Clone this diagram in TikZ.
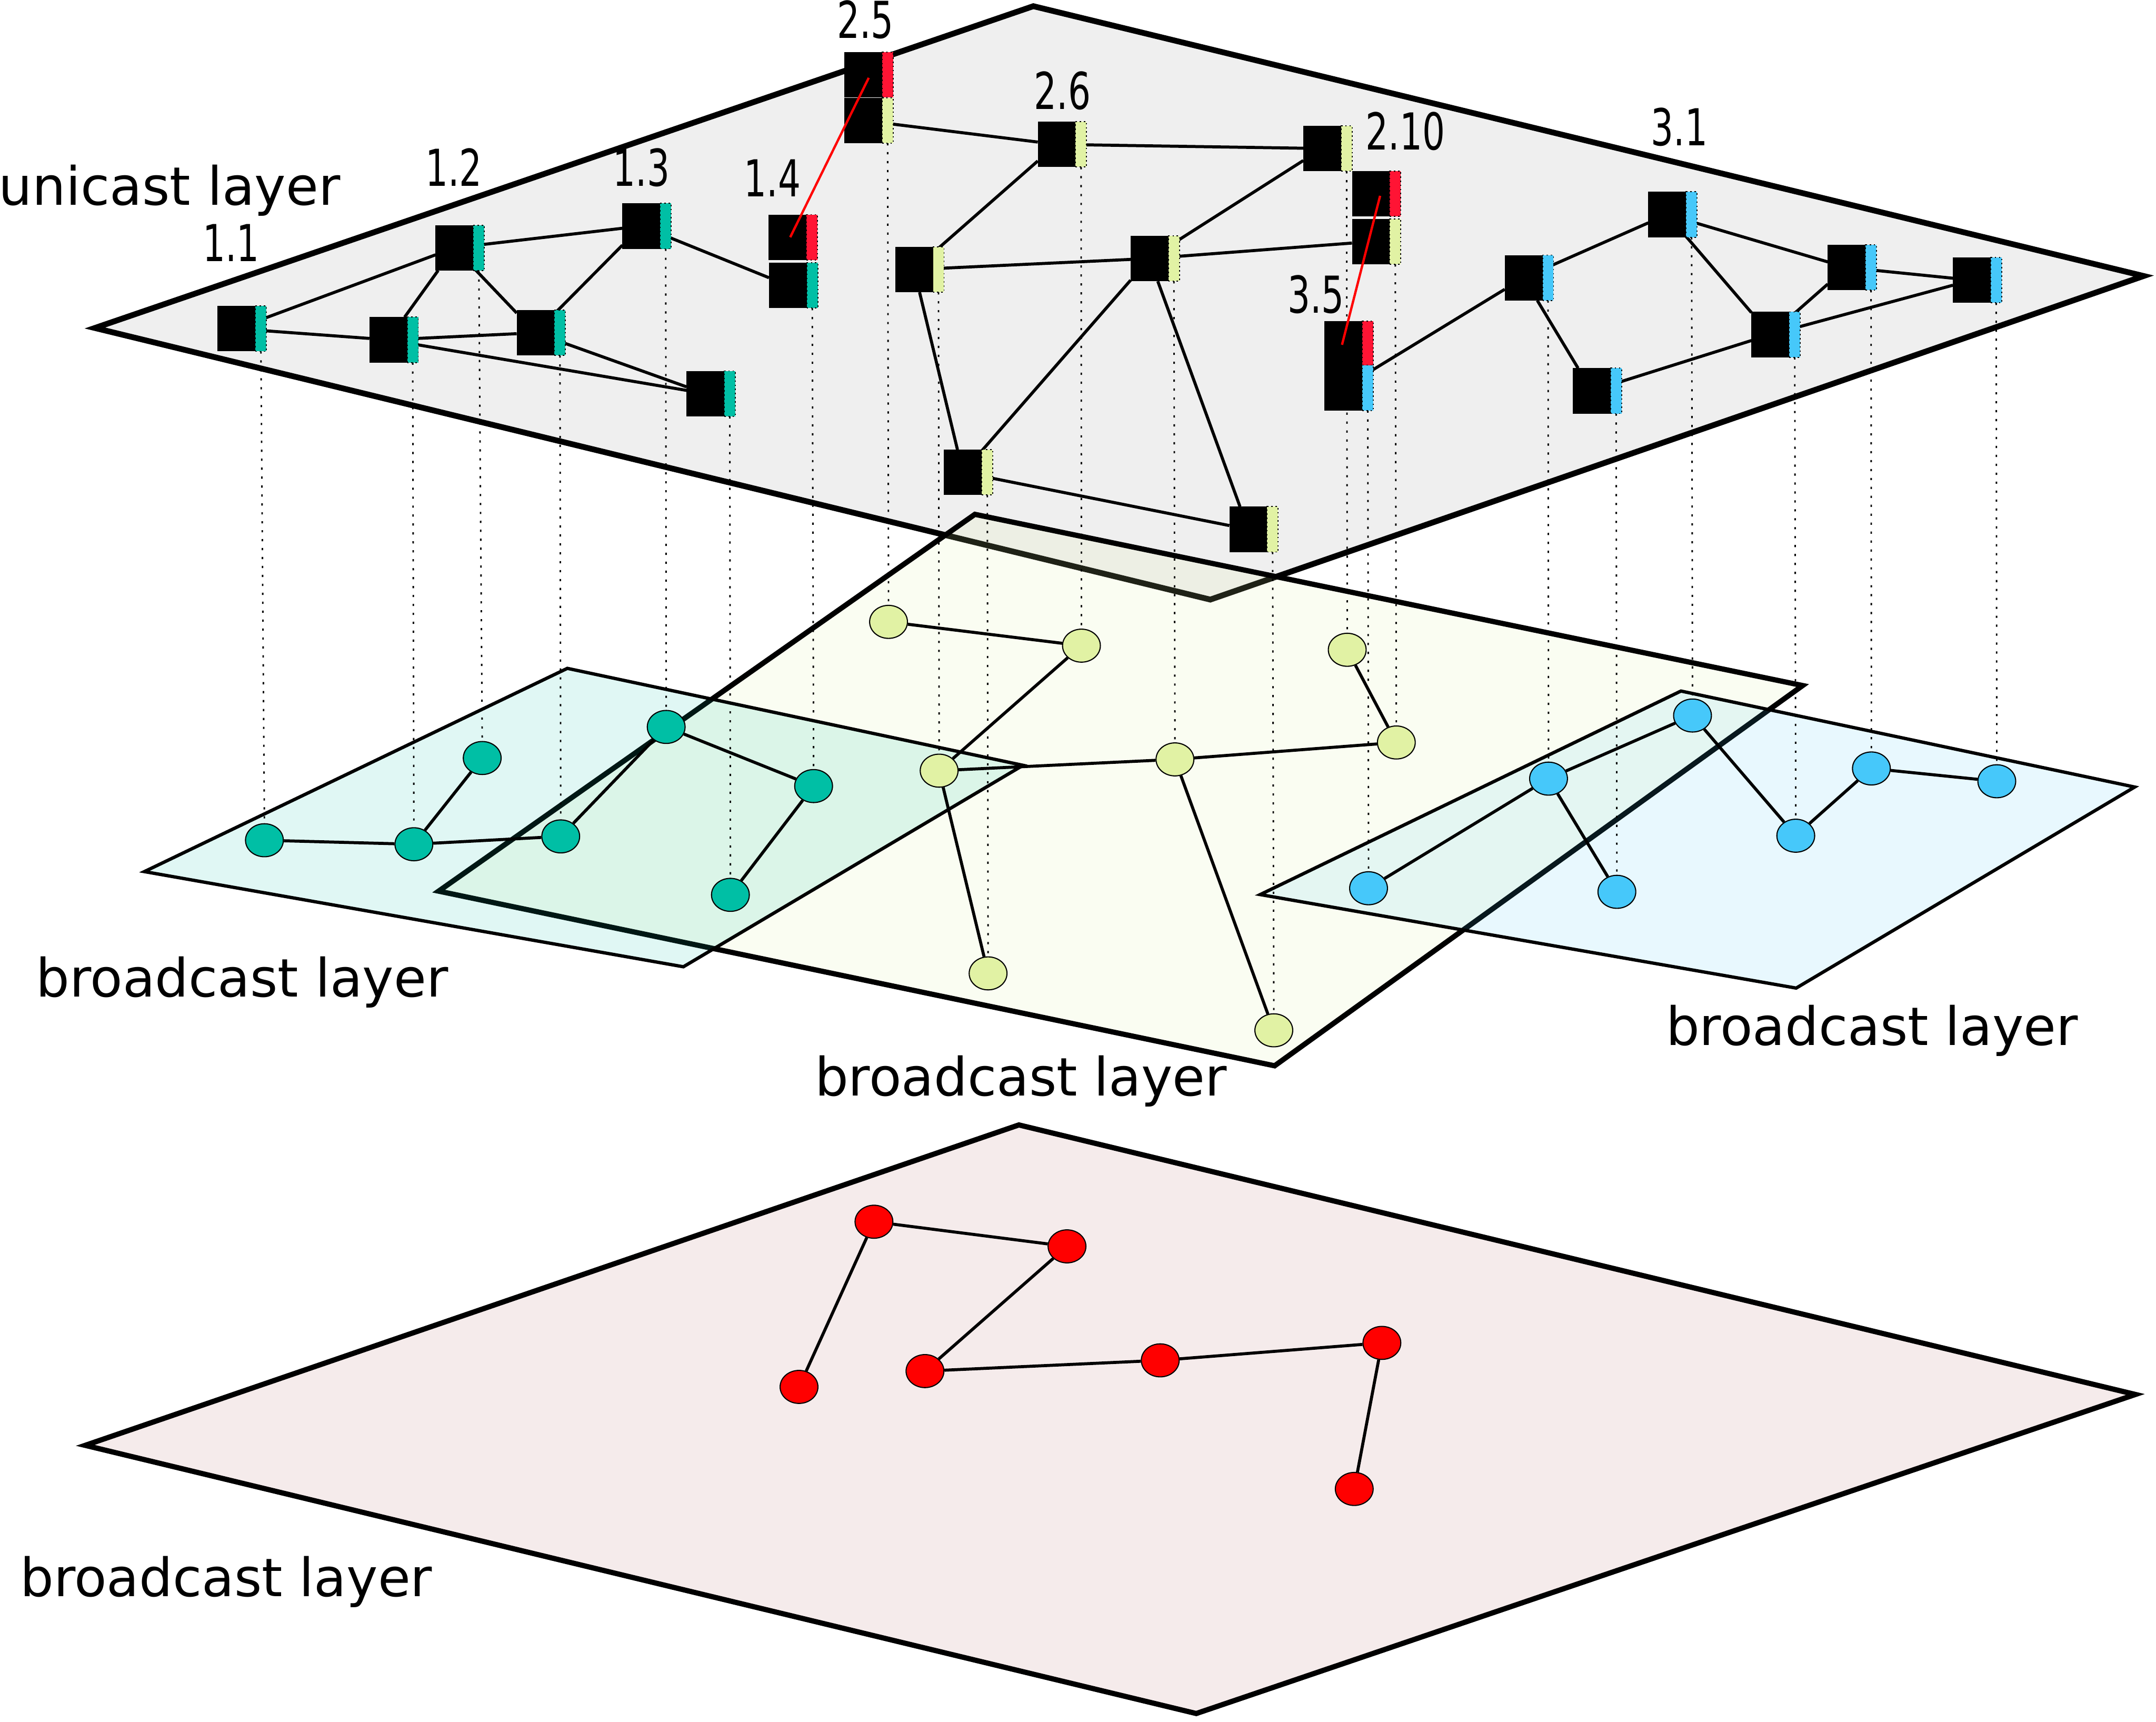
\documentclass[tikz,border=0pt]{standalone}
\usepackage{fontspec}
\usepackage{graphicx}
\setmainfont{DejaVu Sans}
\usetikzlibrary{shapes.geometric}
\definecolor{tealc}{RGB}{0,191,165}
\definecolor{yelc}{RGB}{225,242,164}
\definecolor{bluec}{RGB}{70,200,250}
\definecolor{stripred}{RGB}{255,20,52}
\definecolor{uniplane}{RGB}{239,239,239}
\definecolor{redplane}{RGB}{245,235,235}
\pgfdeclarelayer{planes}
\pgfdeclarelayer{dots}
\pgfdeclarelayer{edges}
\pgfdeclarelayer{front}
\pgfsetlayers{planes,dots,edges,main,front}
\tikzset{
  ubox/.style={rectangle, fill=black, minimum width=27.5pt, minimum height=33pt, inner sep=0pt, outer sep=0pt},
  ustrip/.style={rectangle, draw=black, line width=0.7pt, dash pattern=on 1pt off 2pt, minimum width=8pt, minimum height=33pt, inner sep=0pt, outer sep=0pt},
  bnode/.style={ellipse, draw=black, line width=0.8pt, minimum width=27.5pt, minimum height=24pt, inner sep=0pt},
  uedge/.style={line width=2.2pt},
  bedge/.style={line width=2.2pt},
  vdots/.style={line width=1.1pt, dash pattern=on 1.6pt off 4.9pt},
  redlink/.style={draw=red, line width=1.7pt},
  numlab/.style={inner sep=0pt, anchor=base, font=\fontsize{37}{44}\selectfont},
  biglab/.style={inner sep=0pt, anchor=base west, font=\fontsize{38.5}{46}\selectfont},
  uplane/.style={draw=black, line width=4.2pt, fill=uniplane},
  yplane/.style={draw=black, line width=3.8pt, fill=yelc, fill opacity=0.14},
  tplane/.style={draw=black, line width=2.4pt, fill=tealc, fill opacity=0.12},
  lplane/.style={draw=black, line width=2.4pt, fill=bluec, fill opacity=0.12},
  rplane/.style={draw=black, line width=3.8pt, fill=redplane},
}
\newcommand\UNode[4]{%
  \node[ubox] (#1) at (#2,#3) {};
  \node[ustrip, fill=#4, anchor=west] (#1s) at (#1.east) {};
}
\newcommand\NumLab[3]{\node[numlab] at (#1,#2) {\scalebox{0.7}[1]{#3}};}
\begin{document}
\begin{tikzpicture}[x=1pt, y=-1pt]
\useasboundingbox (0,0) rectangle (1568,1252);
\begin{pgfonlayer}{planes}
  \fill[white] (0,0) rectangle (1568,1252);
  \draw[uplane] (69,238.5) -- (751.5,4.5) -- (1559,200.7) -- (880.2,436) -- cycle;
  \draw[yplane] (709,374) -- (1311,498.5) -- (927,775) -- (319,648) -- cycle;
  \draw[tplane] (412.6,486) -- (744,556.5) -- (497,703) -- (105,633.8) -- cycle;
  \draw[lplane] (1222.5,502.5) -- (1552.5,572.3) -- (1306.3,718.5) -- (916.5,650.5) -- cycle;
  \draw[rplane] (741,818) -- (1553,1014) -- (870,1246) -- (62,1051) -- cycle;
\end{pgfonlayer}

% unicast nodes
\UNode{a1}{172}{239}{tealc}
\UNode{a2}{282.4}{247.1}{tealc}
\UNode{a3}{330.5}{180.2}{tealc}
\UNode{a4}{389.5}{242}{tealc}
\UNode{a5}{466.4}{164.4}{tealc}
\UNode{a6}{513}{286.2}{tealc}
\UNode{a7r}{572.7}{172.5}{stripred}
\UNode{a7}{573}{207.5}{tealc}
\UNode{b1r}{627.8}{54.3}{stripred}
\UNode{b1}{627.8}{87.6}{yelc}
\UNode{b2}{768.5}{105}{yelc}
\UNode{b3}{961.6}{108}{yelc}
\UNode{b4r}{997}{140.8}{stripred}
\UNode{b4}{997}{175.7}{yelc}
\UNode{b5}{664.8}{196}{yelc}
\UNode{b6}{836}{188}{yelc}
\UNode{b7}{700.3}{343.5}{yelc}
\UNode{b8}{907.8}{384.9}{yelc}
\UNode{c1r}{977}{250}{stripred}
\UNode{c1}{977}{282}{bluec}
\UNode{c2}{1108.1}{202}{bluec}
\UNode{c3}{1212.5}{156}{bluec}
\UNode{c4}{1157.6}{284.2}{bluec}
\UNode{c5}{1343}{194.5}{bluec}
\UNode{c6}{1434}{203.7}{bluec}
\UNode{c7}{1287.5}{243.3}{bluec}

% broadcast nodes
\foreach \n/\x/\y in {t1/192.3/611, t2/301/613.9, t3/350.7/551.2, t4/407.8/608.2, t5/484.5/528.6, t6/591.7/571.6, t7/531.2/650.7}
  \node[bnode, fill=tealc] (\n) at (\x,\y) {};
\foreach \n/\x/\y in {y1/646.2/452.2, y2/786.5/469.5, y3/979.8/472.5, y4/1015.5/539.9, y5/854.5/552.2, y6/683/560.4, y7/718.6/707.8, y8/926.4/749.2}
  \node[bnode, fill=yelc] (\n) at (\x,\y) {};
\foreach \n/\x/\y in {l1/1230.9/520.3, l2/1126.2/566.2, l3/995.3/645.9, l4/1175.9/648.5, l5/1306/607.7, l6/1361/558.8, l7/1452.2/568.1}
  \node[bnode, fill=bluec] (\n) at (\x,\y) {};
\foreach \n/\x/\y in {r1/635.6/888.4, r2/776/906.3, r3/581.1/1008.5, r4/672.7/997, r5/843.8/989.2, r6/1005/976.5, r7/984.9/1082.7}
  \node[bnode, fill=red] (\n) at (\x,\y) {};

% vertical dotted links
\begin{pgfonlayer}{dots}
\foreach \u/\b in {a1/t1, a2/t2, a3/t3, a4/t4, a5/t5, a6/t7, a7/t6, b1/y1, b2/y2, b3/y3, b4/y4, b5/y6, b6/y5, b7/y7, b8/y8, c1/l3, c2/l2, c3/l1, c4/l4, c5/l6, c6/l7, c7/l5}
  \draw[vdots] (\u s.south) -- (\b.north);
\end{pgfonlayer}

% edges
\begin{pgfonlayer}{edges}
\foreach \p/\q in {a1/a3, a1/a2, a2/a3, a3/a4, a3/a5, a4/a5, a5/a7, a2/a4, a2/a6, a4/a6,
                   b1/b2, b2/b3, b2/b5, b5/b6, b6/b3, b6/b4, b5/b7, b6/b7, b6/b8, b7/b8,
                   c1/c2, c2/c3, c2/c4, c3/c5, c3/c7, c5/c7, c5/c6, c4/c7, c7/c6}
  \draw[uedge] (\p) -- (\q);
\foreach \p/\q in {t1/t2, t2/t3, t2/t4, t4/t5, t5/t6, t6/t7,
                   y1/y2, y2/y6, y6/y5, y5/y4, y4/y3, y6/y7, y5/y8,
                   l1/l2, l2/l3, l2/l4, l1/l5, l5/l6, l6/l7,
                   r1/r2, r1/r3, r2/r4, r4/r5, r5/r6, r6/r7}
  \draw[bedge] (\p) -- (\q);
\end{pgfonlayer}

\begin{pgfonlayer}{front}
  \draw[redlink] ([xshift=2pt]a7r.center) -- ([xshift=4pt,yshift=-2.3pt]b1r.center);
  \draw[redlink] ([xshift=6.7pt,yshift=-1.6pt]b4r.center) -- ([xshift=-1pt,yshift=-0.7pt]c1r.center);
  \NumLab{168}{190}{1.1}
  \NumLab{330}{135.5}{1.2}
  \NumLab{466.5}{135.5}{1.3}
  \NumLab{561.8}{142.9}{1.4}
  \NumLab{629.4}{27.7}{2.5}
  \NumLab{772.7}{79.3}{2.6}
  \NumLab{1022.2}{109}{2.10}
  \NumLab{1221.3}{106}{3.1}
  \NumLab{957}{227.7}{3.5}
  \node[biglab] (lu) at (-1,149) {unicast layer};
  \node[biglab] (lb1) at (26,725) {broadcast layer};
  \node[biglab] (lb2) at (592.4,797) {broadcast layer};
  \node[biglab] (lb3) at (1211.4,760) {broadcast layer};
  \node[biglab] (lb4) at (14.4,1161) {broadcast layer};
\end{pgfonlayer}
\end{tikzpicture}
\end{document}
